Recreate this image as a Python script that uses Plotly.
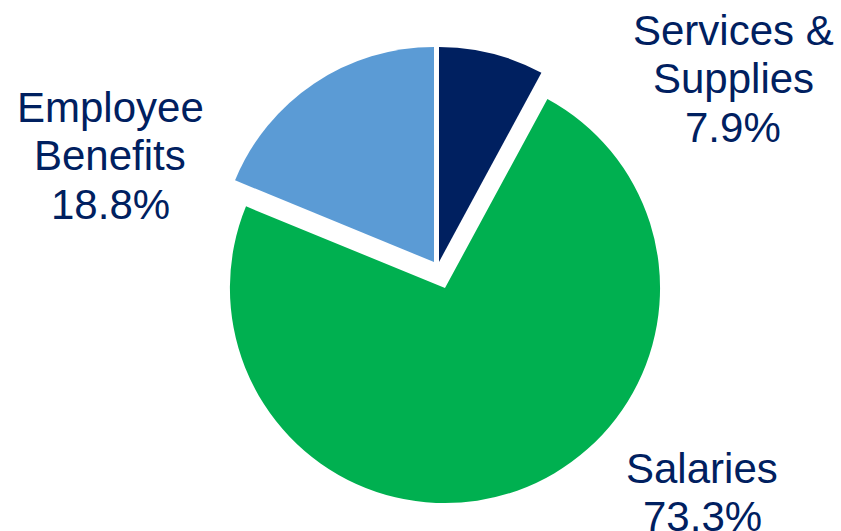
import plotly.graph_objects as go

# Data
categories = ["Services & Supplies", "Salaries", "Employee Benefits"]
label_lines = [["Services &", "Supplies"], ["Salaries"], ["Employee", "Benefits"]]
values = [7.9, 73.3, 18.8]
colors = ["#002060", "#00B050", "#5B9BD5"]
pulls = [0.026, 0.102, 0.030]

W, H = 841, 531
fig = go.Figure()
fig.add_trace(go.Pie(
    labels=categories,
    values=values,
    sort=False,
    direction="clockwise",
    rotation=0,
    pull=pulls,
    marker=dict(colors=colors, line=dict(width=0)),
    textinfo="none",
    textposition="none",
    hoverinfo="none",
    showlegend=False,
    domain=dict(x=[0.2385, 0.8022], y=[0.0501, 0.9428]),
))

# Label layout (pixel centres of label blocks and first-line y)
label_pos = [(733, 30), (702, 468), (110, 107)]
line_gap = 48.5
font = dict(family="Liberation Sans, Arial, sans-serif", size=42, color="#002060")
for lines, val, (px, py) in zip(label_lines, values, label_pos):
    all_lines = lines + [f"{val:.1f}%"]
    for i, t in enumerate(all_lines):
        y = py + i * line_gap
        fig.add_annotation(
            text=t, x=px / W, y=1 - y / H, xref="paper", yref="paper",
            xanchor="center", yanchor="middle", showarrow=False, font=font,
        )

fig.update_layout(
    width=W, height=H,
    margin=dict(l=0, r=0, t=0, b=0),
    paper_bgcolor="white", plot_bgcolor="white",
)
fig.write_html("out.html")
